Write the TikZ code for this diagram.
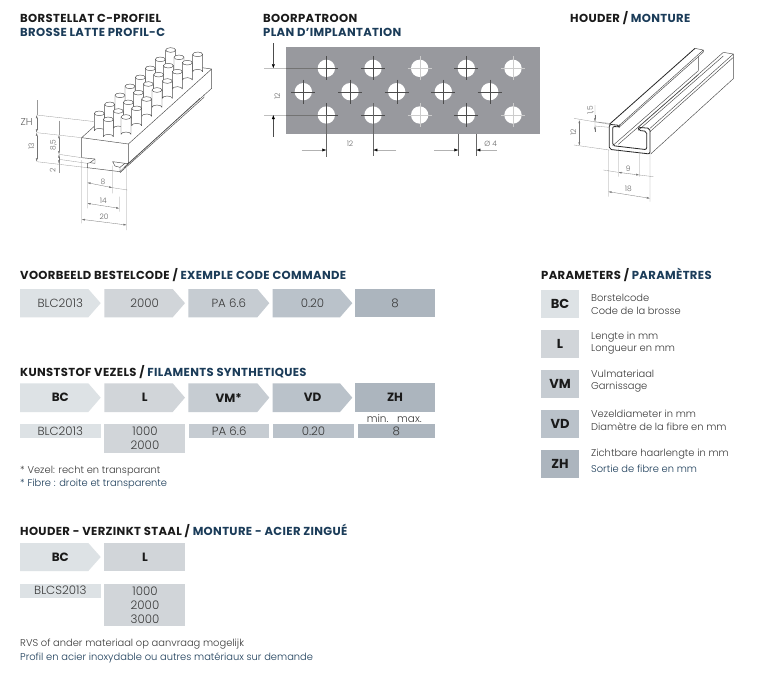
\documentclass[tikz,border=0pt]{standalone}
\usepackage{fontspec}
\usetikzlibrary{arrows.meta}
\setmainfont{Poppins}
\newfontfamily\lightf{Poppins Light}
\definecolor{tblue}{HTML}{1B3C59}
\definecolor{tblack}{HTML}{1A1A1A}
\definecolor{ttext}{HTML}{3A3A3A}
\definecolor{cA}{HTML}{DDE2E5}
\definecolor{cB}{HTML}{D1D5D9}
\definecolor{cC}{HTML}{C6CCD2}
\definecolor{cD}{HTML}{BAC2CA}
\definecolor{cE}{HTML}{ACB5BE}
\definecolor{plate}{HTML}{98999E}
\tikzset{
 titletxt/.style={anchor=west,inner sep=0pt,font=\fontsize{11.6}{13}\selectfont\bfseries\addfontfeature{LetterSpace=3},text=tblack},
 bodytxt/.style={anchor=west,inner sep=0pt,font=\fontsize{9.9}{11}\lightf,text=ttext},
 celltxt/.style={inner sep=0pt,font=\fontsize{11.8}{13}\lightf,text=ttext},
 headtxt/.style={inner sep=0pt,font=\fontsize{12}{13}\selectfont\bfseries,text=tblack},
 paramtxt/.style={inner sep=0pt,font=\fontsize{13}{14}\selectfont\bfseries,text=tblack},
 dimtxt/.style={inner sep=0pt,font=\fontsize{7.5}{8}\lightf,text=black!60},
 dimln/.style={draw=black!40,line width=0.3pt},
 dimar/.style={draw=black!55,line width=0.3pt,{Latex[length=3.2pt,width=1.8pt]}-{Latex[length=3.2pt,width=1.8pt]}},
 dimone/.style={draw=black!55,line width=0.3pt,-{Latex[length=3.2pt,width=1.8pt]}},
 edge/.style={draw=black!70,line width=0.45pt,line join=round},
 thick edge/.style={draw=black!85,line width=0.8pt,line join=round},
}
% name, x left, x shoulder, x tip, y top, y bottom, colour, text style, text
\newcommand{\chev}[9]{%
 \fill[#7] (#2,#5) -- (#3,#5) -- (#4,{(#5+#6)/2}) -- (#3,#6) -- (#2,#6) -- cycle;
 \node[#8] (#1) at ({(#2+#4)/2},{(#5+#6)/2}) {#9};}
\newcommand{\cell}[7]{%
 \fill[#6] (#2,#4) rectangle (#3,#5);
 \node[celltxt,align=center] (#1) at ({(#2+#3)/2},{(#4+#5)/2}) {#7};}
\newcommand{\pin}[2]{%
 \fill[white] (#1-15,#2) -- (#1-15,#2+52) arc[x radius=15,y radius=7,start angle=180,end angle=360] -- (#1+15,#2) -- cycle;
 \draw[edge] (#1-15,#2) -- (#1-15,#2+52) arc[x radius=15,y radius=7,start angle=180,end angle=360] -- (#1+15,#2);
 \draw[edge,fill=white] (#1,#2) ellipse[x radius=15,y radius=7];}
\newcommand{\hole}[3]{%
 \fill[white] (#1,#2) circle[radius=26];
 \draw[#3,line width=0.3pt] (#1-36,#2) -- (#1+36,#2) (#1,#2-36) -- (#1,#2+36);}
\begin{document}
\begin{tikzpicture}[x=1pt,y=-1pt]
\useasboundingbox (0,0) rectangle (768,673);
\fill[white] (0,0) rectangle (768,673);

% ---- titles
\node[titletxt] (t1) at (20,18) {BORSTELLAT C-PROFIEL};
\node[titletxt,text=tblue] (t2) at (20,32) {BROSSE LATTE PROFIL-C};
\node[titletxt] (t3) at (263,18) {BOORPATROON};
\node[titletxt,text=tblue] (t4) at (263,32) {PLAN D’IMPLANTATION};
\node[titletxt] (t5) at (570,18) {HOUDER / \textcolor{tblue}{MONTURE}};
\node[titletxt] (t6) at (20,274.7) {VOORBEELD BESTELCODE / \textcolor{tblue}{EXEMPLE CODE COMMANDE}};
\node[titletxt] (t7) at (20,372.3) {KUNSTSTOF VEZELS / \textcolor{tblue}{FILAMENTS SYNTHETIQUES}};
\node[titletxt] (t8) at (20,530.7) {HOUDER - VERZINKT STAAL / \textcolor{tblue}{MONTURE - ACIER ZINGUÉ}};
\node[titletxt] (t9) at (541,274.7) {PARAMETERS / \textcolor{tblue}{PARAMÈTRES}};

% ---- brush profile (coordinates in 3x units)
\begin{scope}[scale=1/3]
 \fill[white] (245,413) -- (495,188) -- (635,207) -- (635,265) -- (385,497) -- (360,515) -- (262,503) -- (262,490) -- (245,473) -- cycle;
 % tab below
 \draw[edge] (612,283) -- (612,292) -- (360,518) (600,295) -- (372,503);
 % top and right faces
 \draw[edge] (245,413) -- (495,188) -- (635,207) -- (385,432) -- cycle;
 \draw[edge] (385,432) -- (385,490) (385,490) -- (635,265) -- (635,207);
 % front face with slots
 \draw[edge] (245,413) -- (245,473) -- (285,477) -- (285,490) -- (270,488) -- (262,490) -- (262,503) -- (360,515) -- (385,490) -- (375,490) -- (338,485) -- (345,498) -- (360,502) -- (360,515);
 \draw[edge] (270,488) -- (285,477) (360,502) -- (375,490);
 \foreach \a/\b in {512/150,537/172,593/163,481/178,505/197,562/188,451/205,476/224,532/215,421/232,445/252,502/243,390/259,415/278,471/270,360/286,385/307,440/297,329/313,355/333,410/325,298/340,325/358,378/351}
   {\pin{\a}{\b}}
 % dimensions
 \draw[dimln] (110,345) -- (285,365) (110,398) -- (245,413) (110,485) -- (262,503)
   (177,463) -- (245,473) (177,478) -- (262,490)
   (262,503) -- (262,625) (337,497) -- (337,580) (245,480) -- (245,670) (380,505) -- (380,690)
   (337,563) -- (382,570) (358,590) -- (358,635);
 \draw[dimln] (110,300) -- (110,345) (177,362) -- (177,405) (177,478) -- (177,520);
 \draw[dimar] (110,345) -- (110,398);
 \draw[dimar] (110,398) -- (110,485);
 \draw[dimar] (177,405) -- (177,463);
 \draw[dimar] (177,463) -- (177,491);
 \draw[dimar] (262,548) -- (337,563);
 \draw[dimar] (262,610) -- (358,625);
 \draw[dimar] (245,658) -- (380,675);
 \node[dimtxt,font=\fontsize{10}{11}\lightf] (zh) at (80,366) {ZH};
 \node[dimtxt,rotate=90] (d13) at (94,440) {13};
 \node[dimtxt,rotate=90] (d85) at (160,435) {8,5};
 \node[dimtxt,rotate=90] (d2) at (158,512) {2};
 \node[dimtxt] (d8) at (309,545) {8};
 \node[dimtxt] (d14) at (310,602) {14};
 \node[dimtxt] (d20) at (312,650) {20};
\end{scope}

% ---- drilling plan (3x units, offset 250,0)
\begin{scope}[shift={(250,0)},scale=1/3]
 \fill[plate] (108,141) rectangle (870,401);
 \foreach \a in {229,369,649} {\hole{\a}{205}{black!70}}
 \foreach \a in {509,789} {\hole{\a}{205}{black!20}}
 \foreach \a in {160,300,440,580,719} {\hole{\a}{275}{black!70}}
 \foreach \a in {229,369,649} {\hole{\a}{345}{black!70}}
 \foreach \a in {509,789} {\hole{\a}{345}{black!20}}
 \draw[draw=black!25,line width=0.4pt] (42,205) -- (108,205) (42,345) -- (108,345);
 \draw[draw=black!55,line width=0.3pt] (108,205) -- (229,205) (108,345) -- (229,345);
 \draw[draw=black!70,line width=0.3pt,-{Latex[length=4pt,width=3pt,color=black]}] (70,130) -- (70,205);
 \draw[draw=black!70,line width=0.3pt,-{Latex[length=4pt,width=3pt,color=black]}] (70,410) -- (70,345);
 \draw[draw=black!60,line width=0.3pt] (229,345) -- (229,470) (370,310) -- (370,468) (625,401) -- (625,468) (679,401) -- (679,468);
 \draw[draw=black!30,line width=0.3pt,-{Latex[length=4pt,width=3pt,color=black]}] (155,450) -- (229,450);
 \draw[draw=black!30,line width=0.3pt,-{Latex[length=4pt,width=3pt,color=black]}] (438,450) -- (370,450);
 \draw[draw=black!30,line width=0.3pt,-{Latex[length=4pt,width=3pt,color=black]}] (552,450) -- (625,450);
 \draw[draw=black!30,line width=0.3pt,-{Latex[length=4pt,width=3pt,color=black]}] (740,450) -- (679,450);
 \node[dimtxt,rotate=90] (p12a) at (82,290) {12};
 \node[dimtxt] (p12b) at (300,432) {12};
 \node[dimtxt] (p4) at (722,432) {Ø 4};
\end{scope}

% ---- holder (3x units, offset 550,0)
\begin{scope}[shift={(550,0)},scale=1/3]
 \draw[thick edge] (178,373) -- (435,145);
 \draw[edge] (435,145) -- (460,150) -- (208,376);
 \draw[edge] (460,150) -- (460,156) -- (445,170);
 \draw[edge] (208,381) -- (445,170) -- (445,212);
 \draw[edge] (188,437) -- (445,212) (205,433) -- (445,224);
 \draw[edge] (520,157) -- (550,162) -- (550,236) -- (302,462);
 \draw[edge] (520,157) -- (265,382) (550,162) -- (300,385);
 \draw[edge] (550,172) -- (300,395) (520,168) -- (265,391);
 % section
 \draw[thick edge,rounded corners=2pt] (178,373) -- (208,376) -- (208,381) -- (188,379) -- (188,437) -- (290,449) -- (290,394) -- (265,391) -- (265,382) -- (300,385) -- (300,462) -- (178,448) -- cycle;
 % dimensions
 \draw[dimln] (72,355) -- (178,373) (72,435) -- (178,450) (135,315) -- (135,395) (135,365) -- (178,370) (135,378) -- (178,382)
  (175,450) -- (175,590) (300,462) -- (300,605) (205,445) -- (205,530) (268,455) -- (268,530) (160,510) -- (205,517) (268,525) -- (310,530);
 \draw[dimar] (88,360) -- (88,437);
 \draw[dimar] (205,517) -- (268,525);
 \draw[dimar] (175,575) -- (300,595);
 \draw[dimone] (135,345) -- (135,365);
 \draw[dimone] (135,395) -- (135,378);
 \node[dimtxt,rotate=90] (h15) at (122,331) {1,5};
 \node[dimtxt,rotate=90] (h12) at (70,397) {12};
 \node[dimtxt] (h9) at (235,505) {9};
 \node[dimtxt] (h18) at (235,568) {18};
\end{scope}

% ---- order code
\chev{a1}{20}{88.3}{100.7}{289}{317.3}{cA}{celltxt}{BLC2013}
\chev{a2}{104.3}{172.7}{185}{289}{317.3}{cB}{celltxt}{2000}
\chev{a3}{188.3}{257.3}{269.3}{289}{317.3}{cC}{celltxt}{PA 6.6}
\chev{a4}{272.7}{340}{352.3}{289}{317.3}{cD}{celltxt}{0.20}
\cell{a5}{355.3}{434.7}{289}{317.3}{cE}{8}

% ---- synthetic fibres
\chev{b1}{20}{88.3}{100.7}{383.3}{412}{cA}{headtxt}{BC}
\chev{b2}{104.3}{172.7}{185}{383.3}{412}{cB}{headtxt}{L}
\chev{b3}{188.3}{257.3}{269.3}{383.3}{412}{cC}{headtxt}{VM*}
\chev{b4}{272.7}{340}{352.3}{383.3}{412}{cD}{headtxt}{VD}
\fill[cE] (355.3,383.3) rectangle (434.7,412);
\node[headtxt] (b5) at (395,397.6) {ZH};
\node[celltxt,font=\fontsize{10.5}{11}\lightf] (mm) at (394.3,419) {min.\ \ \ max.};
\cell{c1}{20}{100.7}{424}{438.3}{cA}{BLC2013}
\fill[cB] (104.3,424) rectangle (185,453.3);
\node[celltxt] (c2a) at (145,431.3) {1000};
\node[celltxt] (c2b) at (145,445.5) {2000};
\cell{c3}{189}{269.3}{424}{438.3}{cC}{PA 6.6}
\cell{c4}{272.7}{354.3}{424}{438.3}{cD}{0.20}
\cell{c5}{358}{434.7}{424}{438.3}{cE}{8}
\node[bodytxt] (n1) at (20,471.3) {* Vezel: recht en transparant};
\node[bodytxt,text=tblue] (n2) at (20,484) {* Fibre : droite et transparente};

% ---- holder table
\chev{e1}{20}{88.3}{100.7}{543}{571}{cA}{headtxt}{BC}
\fill[cB] (104.3,543) rectangle (185,571);
\node[headtxt] (e2) at (145,557) {L};
\cell{f1}{20}{100.7}{583.7}{597.7}{cA}{BLCS2013}
\fill[cB] (104.3,583.7) rectangle (185,626);
\node[celltxt] (f2a) at (145,591) {1000};
\node[celltxt] (f2b) at (145,605) {2000};
\node[celltxt] (f2c) at (145,619.3) {3000};
\node[bodytxt] (n3) at (20,644.3) {RVS of ander materiaal op aanvraag mogelijk};
\node[bodytxt,text=tblue] (n4) at (20,657.7) {Profil en acier inoxydable ou autres matériaux sur demande};

% ---- parameters
\fill[cA] (541,290.3) rectangle (579.3,317.7);
\node[paramtxt] (g1) at (560,304) {BC};
\fill[cB] (541,330.3) rectangle (579.3,357.7);
\node[paramtxt] (g2) at (560,344) {L};
\fill[cC] (541,370.3) rectangle (579.3,397.7);
\node[paramtxt] (g3) at (560,384) {VM};
\fill[cD] (541,410) rectangle (579.3,437.7);
\node[paramtxt] (g4) at (560,424) {VD};
\fill[cE] (541,450) rectangle (579.3,477.7);
\node[paramtxt] (g5) at (560,464) {ZH};
\node[bodytxt] (h1a) at (591,298.3) {Borstelcode};
\node[bodytxt] (h1b) at (591,311) {Code de la brosse};
\node[bodytxt] (h2a) at (591,336.7) {Lengte in mm};
\node[bodytxt] (h2b) at (591,349.3) {Longueur en mm};
\node[bodytxt] (h3a) at (591,374) {Vulmateriaal};
\node[bodytxt] (h3b) at (591,387.3) {Garnissage};
\node[bodytxt] (h4a) at (591,414.3) {Vezeldiameter in mm};
\node[bodytxt] (h4b) at (591,427) {Diamètre de la fibre en mm};
\node[bodytxt] (h5a) at (591,454) {Zichtbare haarlengte in mm};
\node[bodytxt,text=tblue] (h5b) at (591,468.3) {Sortie de fibre en mm};
\end{tikzpicture}
\end{document}
